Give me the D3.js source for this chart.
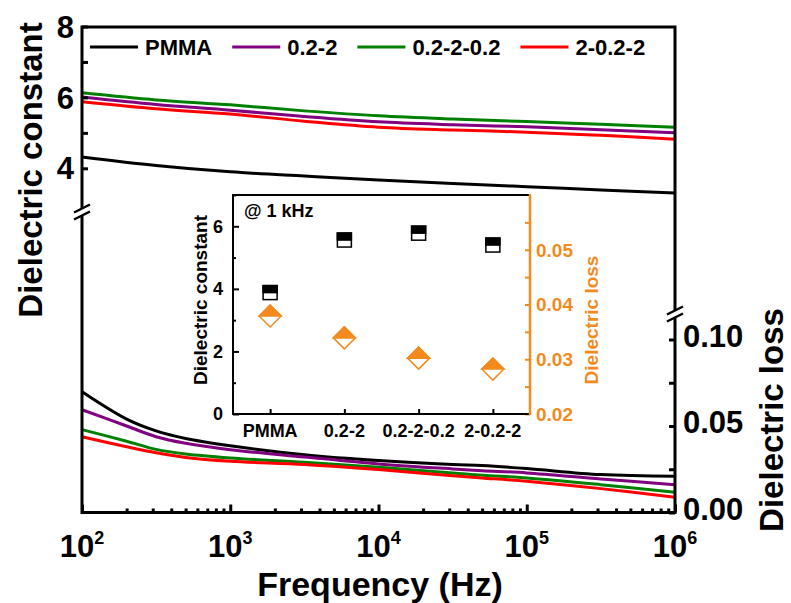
<!DOCTYPE html>
<html>
<head>
<meta charset="utf-8">
<script src="https://cdn.jsdelivr.net/npm/d3@7"></script>
<style>
  body { margin: 0; background: #fff; }
  text { font-family: Arial, "Liberation Sans", sans-serif; font-weight: bold; }
</style>
</head>
<body>
<svg id="chart" width="791" height="603"></svg>
<script>
// ---- data ----
const samples = ["PMMA", "0.2-2", "0.2-2-0.2", "2-0.2-2"];
const sampleColors = ["#000000", "#800080", "#008000", "#ff0000"];

// dielectric constant vs frequency (Hz)
const freqConst = [1e2, 316, 1e3, 3162, 1e4, 31623, 1e5, 316228, 1e6];
const constPMMA   = [4.32, 4.08, 3.90, 3.78, 3.67, 3.57, 3.48, 3.39, 3.30];
const const02_2   = [6.01, 5.80, 5.64, 5.46, 5.31, 5.23, 5.17, 5.09, 5.00];
const const02_2_02 = [6.13, 5.93, 5.79, 5.62, 5.48, 5.39, 5.32, 5.24, 5.16];
const const2_02_2 = [5.88, 5.68, 5.53, 5.33, 5.16, 5.08, 5.02, 4.93, 4.82];

// dielectric loss vs frequency (Hz)
const freqLoss = [1e2, 200, 316, 500, 1e3, 3162, 1e4, 31623, 5e4, 1e5, 316228, 1e6];
const lossPMMA    = [0.0698, 0.0540, 0.0472, 0.0428, 0.0386, 0.0334, 0.0300, 0.0277, 0.0271, 0.0254, 0.0219, 0.0209];
const loss02_2    = [0.0594, 0.0500, 0.0438, 0.0400, 0.0363, 0.0321, 0.0281, 0.0252, 0.0242, 0.0229, 0.0194, 0.0161];
const loss02_2_02 = [0.0479, 0.0412, 0.0365, 0.0338, 0.0315, 0.0290, 0.0261, 0.0229, 0.0215, 0.0200, 0.0161, 0.0117];
const loss2_02_2  = [0.0438, 0.0380, 0.0345, 0.0318, 0.0296, 0.0277, 0.0248, 0.0213, 0.0200, 0.0180, 0.0138, 0.0088];

// values at 1 kHz (inset)
const constAt1k = [3.88, 5.56, 5.78, 5.40];
const lossAt1k  = [0.0379, 0.0339, 0.0302, 0.0282];

// axis ticks
const freqMajor = [1e2, 1e3, 1e4, 1e5, 1e6];
const freqExp = ["2", "3", "4", "5", "6"];
const constTicks = [4, 5, 6, 7, 8];
const constLabels = [4, 6, 8];
const lossTicks = [0, 0.025, 0.05, 0.075, 0.10];
const lossLabels = [0, 0.05, 0.10];
const insetConstMinor = [1, 3, 5, 7];
const insetConstLabels = [0, 2, 4, 6];
const insetLossTicks = [0.02, 0.025, 0.03, 0.035, 0.04, 0.045, 0.05, 0.055];
const insetLossLabels = [0.02, 0.03, 0.04, 0.05];

const constSeries = [constPMMA, const02_2, const02_2_02, const2_02_2];
const lossSeries = [lossPMMA, loss02_2, loss02_2_02, loss2_02_2];

// ---- layout ----
const svg = d3.select("#chart");
const L = 82, R = 675, T = 27, B = 512.5;
const orange = "#f28a1e";

const x = d3.scaleLog().domain([1e2, 1e6]).range([L, R]);
const yC = d3.scaleLinear().domain([4, 8]).range([168.3, 26.5]);
const yL = d3.scaleLinear().domain([0, 0.10]).range([B, 339.5]);

svg.append("rect").attr("width", 791).attr("height", 603).attr("fill", "#fff");

// curves
const plot = svg.append("g");
const lineC = d3.line().x(d => x(d[0])).y(d => yC(d[1])).curve(d3.curveCatmullRom.alpha(0.5));
const lineL = d3.line().x(d => x(d[0])).y(d => yL(d[1])).curve(d3.curveCatmullRom.alpha(0.5));
constSeries.forEach((s, i) => {
  plot.append("path").datum(d3.zip(freqConst, s)).attr("d", lineC)
    .attr("fill", "none").attr("stroke", sampleColors[i]).attr("stroke-width", 3);
});
lossSeries.forEach((s, i) => {
  plot.append("path").datum(d3.zip(freqLoss, s)).attr("d", lineL)
    .attr("fill", "none").attr("stroke", sampleColors[i]).attr("stroke-width", 3);
});

// x axis ticks (inward)
const minor = [];
freqMajor.slice(0, -1).forEach(f => { for (let k = 2; k <= 9; k++) minor.push(f * k); });
const gx = svg.append("g").attr("transform", `translate(0,${B})`);
gx.append("g").call(d3.axisBottom(x).tickValues(minor).tickSize(-4).tickFormat(""))
  .call(g => g.select(".domain").remove())
  .selectAll("line").attr("stroke", "#000").attr("stroke-width", 3);
gx.append("g").call(d3.axisBottom(x).tickValues(freqMajor).tickSize(-8).tickFormat(""))
  .call(g => g.select(".domain").remove())
  .selectAll("line").attr("stroke", "#000").attr("stroke-width", 3);
freqMajor.forEach((f, i) => {
  const t = svg.append("text").attr("x", x(f)).attr("y", 557)
    .attr("text-anchor", "middle").attr("font-size", 31);
  t.append("tspan").text("10");
  t.append("tspan").attr("dy", -13).attr("font-size", 18).text(freqExp[i]);
});

// left axis (dielectric constant)
const gy = svg.append("g").attr("transform", `translate(${L},0)`);
gy.call(d3.axisLeft(yC).tickValues(constTicks).tickSize(-6).tickFormat(""))
  .call(g => g.select(".domain").remove())
  .selectAll("line").attr("stroke", "#000").attr("stroke-width", 3);
constLabels.forEach(v => {
  svg.append("text").attr("x", 74).attr("y", yC(v)).attr("dy", "0.36em")
    .attr("text-anchor", "end").attr("font-size", 31).text(v);
});

// right axis (dielectric loss)
const gr = svg.append("g").attr("transform", `translate(${R},0)`);
gr.call(d3.axisRight(yL).tickValues(lossTicks).tickSize(-6).tickFormat(""))
  .call(g => g.select(".domain").remove())
  .selectAll("line").attr("stroke", "#000").attr("stroke-width", 3);
lossLabels.forEach(v => {
  svg.append("text").attr("x", 683).attr("y", yL(v) - 4).attr("dy", "0.36em")
    .attr("font-size", 31).text(d3.format(".2f")(v));
});

// frame
svg.append("rect").attr("x", L).attr("y", T).attr("width", R - L).attr("height", B - T)
  .attr("fill", "none").attr("stroke", "#000").attr("stroke-width", 3);

// axis breaks
function axisBreak(cx, cy) {
  svg.append("rect").attr("x", cx - 3).attr("y", cy - 4).attr("width", 6).attr("height", 8).attr("fill", "#fff");
  [-3.5, 3.5].forEach(o => {
    svg.append("line").attr("x1", cx - 8).attr("y1", cy + 4 + o).attr("x2", cx + 8).attr("y2", cy - 4 + o)
      .attr("stroke", "#000").attr("stroke-width", 2.5);
  });
}
axisBreak(L, 212);
axisBreak(R, 314);

// axis titles
svg.append("text").attr("transform", `translate(42,170) rotate(-90)`)
  .attr("text-anchor", "middle").attr("font-size", 33).text("Dielectric constant");
svg.append("text").attr("transform", `translate(783,420) rotate(-90)`)
  .attr("text-anchor", "middle").attr("font-size", 33).text("Dielectric loss");
svg.append("text").attr("x", 380).attr("y", 596)
  .attr("text-anchor", "middle").attr("font-size", 34).text("Frequency (Hz)");

// legend
const legend = svg.append("g");
let lx = 90;
samples.forEach((s, i) => {
  legend.append("line").attr("x1", lx).attr("x2", lx + 48).attr("y1", 47).attr("y2", 47)
    .attr("stroke", sampleColors[i]).attr("stroke-width", 3);
  const t = legend.append("text").attr("x", lx + 55).attr("y", 47).attr("dy", "0.36em")
    .attr("font-size", 22).text(s);
  lx += 55 + t.node().getComputedTextLength() + 20;
});

// ---- inset: values at 1 kHz ----
const iL = 233, iR = 530, iT = 195, iB = 414;
const xi = d3.scalePoint().domain(samples).range([iL, iR]).padding(0.5);
const yiC = d3.scaleLinear().domain([0, 7]).range([iB, iT]);
const yiL = d3.scaleLinear().domain([0.02, 0.06]).range([iB, iT]);
const inset = svg.append("g");
inset.append("rect").attr("x", iL).attr("y", iT).attr("width", iR - iL).attr("height", iB - iT).attr("fill", "#fff");

// inset left axis
inset.append("g").attr("transform", `translate(${iL},0)`)
  .call(d3.axisLeft(yiC).tickValues(insetConstMinor).tickSize(-3).tickFormat(""))
  .call(g => g.select(".domain").remove())
  .selectAll("line").attr("stroke", "#000").attr("stroke-width", 2);
inset.append("g").attr("transform", `translate(${iL},0)`)
  .call(d3.axisLeft(yiC).tickValues(insetConstLabels).tickSize(-6).tickFormat(""))
  .call(g => g.select(".domain").remove())
  .selectAll("line").attr("stroke", "#000").attr("stroke-width", 2);
insetConstLabels.forEach(v => {
  inset.append("text").attr("x", 223).attr("y", yiC(v)).attr("dy", "0.36em")
    .attr("text-anchor", "end").attr("font-size", 18).text(v);
});

// inset bottom axis
inset.append("g").attr("transform", `translate(0,${iB})`)
  .call(d3.axisBottom(xi).tickSize(-5).tickFormat(""))
  .call(g => g.select(".domain").remove())
  .selectAll("line").attr("stroke", "#000").attr("stroke-width", 2);
samples.forEach(s => {
  inset.append("text").attr("x", xi(s)).attr("y", 437).attr("text-anchor", "middle")
    .attr("font-size", 18).text(s);
});

// inset right axis (orange)
inset.append("g").attr("transform", `translate(${iR},0)`)
  .call(d3.axisRight(yiL).tickValues(insetLossTicks).tickSize(-5).tickFormat(""))
  .call(g => g.select(".domain").remove())
  .selectAll("line").attr("stroke", orange).attr("stroke-width", 2);
insetLossLabels.forEach(v => {
  inset.append("text").attr("x", 536).attr("y", yiL(v)).attr("dy", "0.36em")
    .attr("font-size", 19).attr("fill", orange).text(d3.format(".2f")(v));
});

// inset frame
inset.append("path").attr("d", `M${iR},${iT}H${iL}V${iB}H${iR}`)
  .attr("fill", "none").attr("stroke", "#000").attr("stroke-width", 2);
inset.append("line").attr("x1", iR).attr("x2", iR).attr("y1", iT - 1).attr("y2", iB + 1)
  .attr("stroke", orange).attr("stroke-width", 2.5);

// inset markers: half-filled squares (constant) and diamonds (loss)
const sq = 14;
samples.forEach((s, i) => {
  const cx = xi(s), cy = yiC(constAt1k[i]);
  inset.append("rect").attr("x", cx - sq / 2).attr("y", cy - sq / 2).attr("width", sq).attr("height", sq)
    .attr("fill", "#fff").attr("stroke", "#000").attr("stroke-width", 1.5);
  inset.append("rect").attr("x", cx - sq / 2).attr("y", cy - sq / 2).attr("width", sq).attr("height", sq / 2)
    .attr("fill", "#000").attr("stroke", "#000").attr("stroke-width", 1.5);
});
const dr = 11;
samples.forEach((s, i) => {
  const cx = xi(s), cy = yiL(lossAt1k[i]);
  inset.append("path").attr("d", `M${cx - dr},${cy}L${cx},${cy - dr}L${cx + dr},${cy}L${cx},${cy + dr}Z`)
    .attr("fill", "#fff").attr("stroke", orange).attr("stroke-width", 1.5);
  inset.append("path").attr("d", `M${cx - dr},${cy}L${cx},${cy - dr}L${cx + dr},${cy}Z`)
    .attr("fill", orange).attr("stroke", orange).attr("stroke-width", 1.5);
});

inset.append("text").attr("x", 244).attr("y", 211).attr("dy", "0.36em")
  .attr("font-size", 18).text("@ 1 kHz");
inset.append("text").attr("transform", `translate(207,300) rotate(-90)`)
  .attr("text-anchor", "middle").attr("font-size", 19).text("Dielectric constant");
inset.append("text").attr("transform", `translate(598,320) rotate(-90)`)
  .attr("text-anchor", "middle").attr("font-size", 19).attr("fill", orange).text("Dielectric loss");
</script>
</body>
</html>
